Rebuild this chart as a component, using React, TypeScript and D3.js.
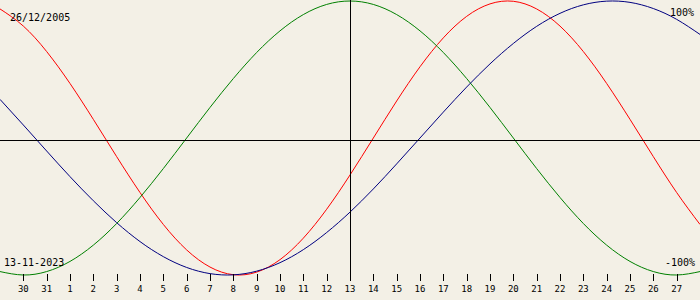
import React from "react";
import * as d3 from "d3";

const W = 700;
const H = 300;

// day offsets from the chart date (13-11-2023), -15 .. 15
const dayOffsets = [-15,-14,-13,-12,-11,-10,-9,-8,-7,-6,-5,-4,-3,-2,-1,0,1,2,3,4,5,6,7,8,9,10,11,12,13,14,15];
const dayLabels = ["29","30","31","1","2","3","4","5","6","7","8","9","10","11","12","13","14","15","16","17","18","19","20","21","22","23","24","25","26","27","28"];

const physical = [0.942,0.817,0.631,0.398,0.136,-0.136,-0.398,-0.631,-0.817,-0.942,-0.998,-0.979,-0.888,-0.731,-0.520,-0.270,0,0.270,0.520,0.731,0.888,0.979,0.998,0.942,0.817,0.631,0.398,0.136,-0.136,-0.398,-0.631];
const emotional = [-0.975,-1,-0.975,-0.901,-0.782,-0.624,-0.434,-0.223,0,0.223,0.434,0.624,0.782,0.901,0.975,1,0.975,0.901,0.782,0.624,0.434,0.223,0,-0.223,-0.434,-0.624,-0.782,-0.901,-0.975,-1,-0.975];
const intellectual = [0.282,0.095,-0.095,-0.282,-0.458,-0.618,-0.756,-0.866,-0.945,-0.990,-0.999,-0.972,-0.910,-0.815,-0.690,-0.541,-0.372,-0.189,0,0.189,0.372,0.541,0.690,0.815,0.910,0.972,0.999,0.990,0.945,0.866,0.756];

const birthLabel = "26/12/2005";
const dateLabel = "13-11-2023";
const topLabel = "100%";
const bottomLabel = "-100%";

const series = [
  { name: "physical", values: physical, color: "#ff0000" },
  { name: "emotional", values: emotional, color: "#008000" },
  { name: "intellectual", values: intellectual, color: "#000080" },
];

export default function App() {
  const x = d3.scaleLinear().domain([-15, 15]).range([0, W]);
  const y = d3.scaleLinear().domain([-1, 1]).range([275, 1]);
  const zeroY = 140;
  const line = d3
    .line<number>()
    .x((_, i) => x(dayOffsets[i]))
    .y((v) => y(v))
    .curve(d3.curveNatural);

  const font = "'DejaVu Sans Mono', monospace";

  return (
    <svg
      width={W}
      height={H}
      style={{ position: "absolute", left: 0, top: 0, display: "block" }}
    >
      <rect x={0} y={0} width={W} height={H} fill="#f3f0e6" />
      {series.map((s) => (
        <path key={s.name} d={line(s.values) || ""} fill="none" stroke={s.color} strokeWidth={1} />
      ))}
      <line x1={0} x2={W} y1={zeroY + 0.5} y2={zeroY + 0.5} stroke="#000" strokeWidth={1} />
      <line x1={Math.round(x(0)) + 0.5} x2={Math.round(x(0)) + 0.5} y1={0} y2={281} stroke="#000" strokeWidth={1} />
      {dayOffsets.map((d, i) =>
        d === -15 || d === 15 ? null : (
          <g key={d}>
            <line
              x1={Math.round(x(d)) + 0.5}
              x2={Math.round(x(d)) + 0.5}
              y1={274}
              y2={281}
              stroke="#000"
              strokeWidth={1}
            />
            <text
              x={x(d)}
              y={292}
              textAnchor="middle"
              fontFamily={font}
              fontSize={9}
              fill="#000"
            >
              {dayLabels[i]}
            </text>
          </g>
        )
      )}
      <text x={10} y={21} fontFamily={font} fontSize={10} fill="#000">{birthLabel}</text>
      <text x={4} y={266} fontFamily={font} fontSize={10} fill="#000">{dateLabel}</text>
      <text x={694} y={16} textAnchor="end" fontFamily={font} fontSize={10} fill="#000">{topLabel}</text>
      <text x={695} y={266} textAnchor="end" fontFamily={font} fontSize={10} fill="#000">{bottomLabel}</text>
    </svg>
  );
}
